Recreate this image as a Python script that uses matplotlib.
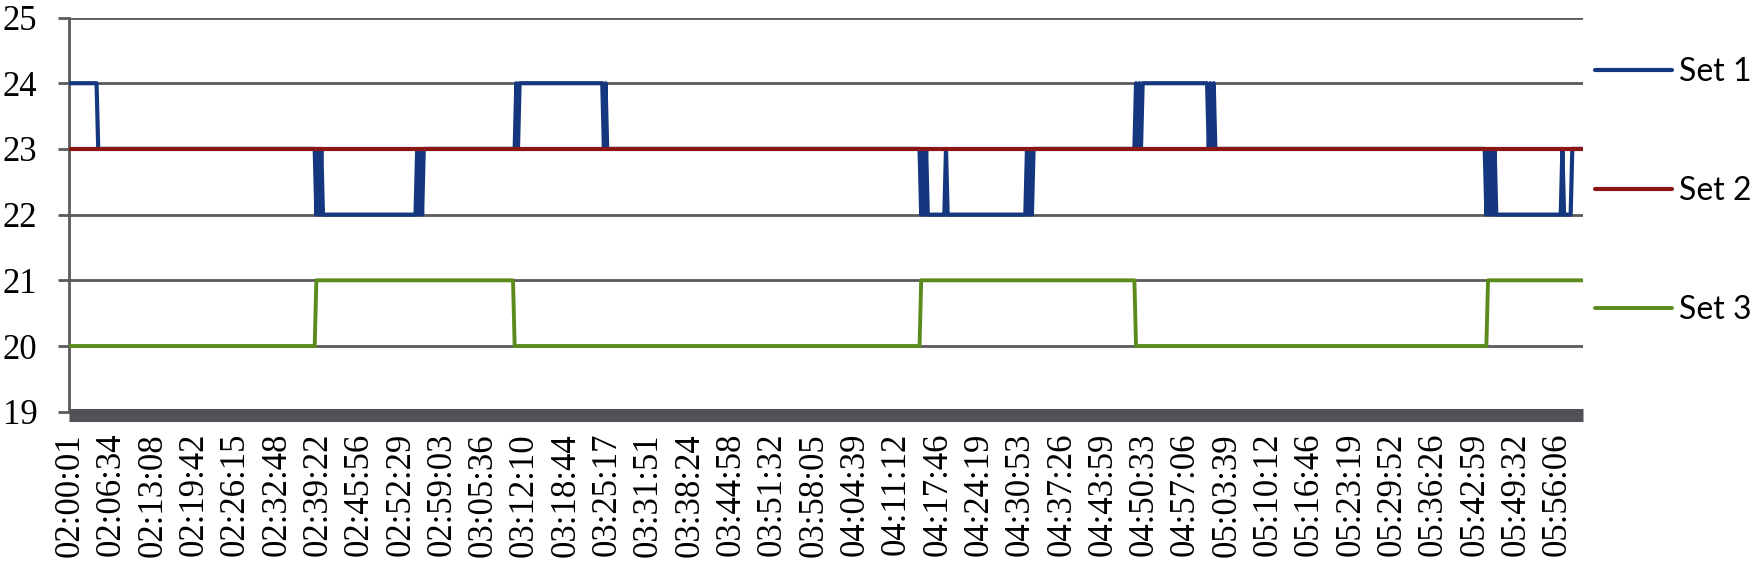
import numpy as np
import matplotlib.pyplot as plt

# x axis: one category per sample, a label every 25 samples
tick_labels = [
    "02:00:01", "02:06:34", "02:13:08", "02:19:42", "02:26:15", "02:32:48",
    "02:39:22", "02:45:56", "02:52:29", "02:59:03", "03:05:36", "03:12:10",
    "03:18:44", "03:25:17", "03:31:51", "03:38:24", "03:44:58", "03:51:32",
    "03:58:05", "04:04:39", "04:11:12", "04:17:46", "04:24:19", "04:30:53",
    "04:37:26", "04:43:59", "04:50:33", "04:57:06", "05:03:39", "05:10:12",
    "05:16:46", "05:23:19", "05:29:52", "05:36:26", "05:42:59", "05:49:32",
    "05:56:06",
]
label_step = 25

# series stored as runs: level, number of samples
set1_levels = [24, 23, 22, 23, 22, 23, 22, 23, 22, 23, 22, 23, 24, 23, 24, 23, 24, 23,
               22, 23, 22, 23, 22, 23, 22, 23, 22, 23, 22, 23, 24, 23, 24, 23, 24,
               23, 24, 23, 24, 23, 22, 23, 22, 23, 22, 23, 22, 23, 22, 23]
set1_counts = [17, 132, 1, 1, 1, 1, 57, 1, 1, 1, 1, 56, 1, 1, 51, 1, 1, 190,
               1, 1, 1, 1, 11, 1, 48, 1, 1, 1, 1, 62, 1, 1, 1, 1, 40,
               1, 1, 1, 1, 164, 1, 1, 1, 1, 1, 1, 40, 1, 5, 7]

set2_levels = [23]
set2_counts = [916]

set3_levels = [20, 21, 20, 21, 20, 21]
set3_counts = [149, 120, 246, 130, 213, 58]

set1 = np.repeat(set1_levels, set1_counts)
set2 = np.repeat(set2_levels, set2_counts)
set3 = np.repeat(set3_levels, set3_counts)
n = len(set1)
x = np.arange(n)

plt.rcParams['font.family'] = ['Liberation Serif', 'DejaVu Serif']
plt.rcParams['lines.solid_capstyle'] = 'round'

grid_col = '#5b5b5b'

fig = plt.figure(figsize=(17.5, 5.65), dpi=100)
ax = fig.add_axes([0.0396, 0.2713, 0.865, 0.6977])

ax.plot(x, set1, color='#15377f', lw=3.0, label='Set 1', zorder=3)
ax.plot(x, set2, color='#8c1616', lw=3.0, label='Set 2', zorder=4)
ax.plot(x, set3, color='#5b8a1d', lw=2.8, label='Set 3', zorder=3)

ax.set_xlim(-0.5, n - 0.5)
ax.set_ylim(19, 25)
ax.set_yticks(range(19, 26))
ax.set_xticks(np.arange(0, n, label_step))
ax.set_xticklabels(tick_labels)

ax.grid(axis='y', color=grid_col, lw=2.0)
ax.set_axisbelow(True)

ax.spines['top'].set_visible(False)
ax.spines['right'].set_visible(False)
ax.spines['left'].set_color(grid_col)
ax.spines['left'].set_linewidth(2.0)
ax.spines['bottom'].set_color('#515257')
ax.spines['bottom'].set_linewidth(9.4)
ax.spines['bottom'].set_capstyle('butt')
ax.spines['bottom'].set_position(('outward', 2.7))

ax.tick_params(axis='y', direction='out', length=8, width=2.0, color=grid_col,
               pad=15, labelsize=25)
ax.tick_params(axis='x', length=0, pad=12.6, labelsize=25, labelrotation=90)

ax.legend(loc='upper left', bbox_to_anchor=(0.9114, 0.899),
          bbox_transform=fig.transFigure, frameon=False,
          prop={'family': 'Lato', 'size': 23},
          handlelength=2.41, handletextpad=0.22, labelspacing=2.79,
          borderpad=0, borderaxespad=0)

fig.savefig('out.png', dpi=100)
